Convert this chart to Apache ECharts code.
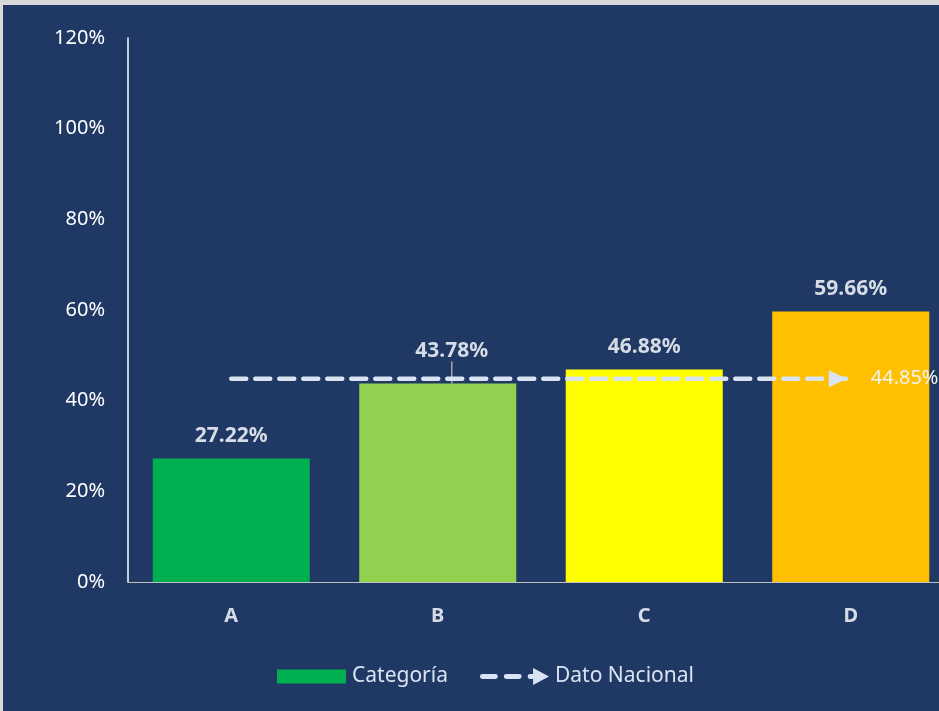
<!DOCTYPE html>
<html>
<head>
<meta charset="utf-8">
<style>
  html, body { margin: 0; padding: 0; background: #d9d9d9; overflow: hidden; }
  #chart { position: absolute; left: 3px; top: 5px; width: 960px; height: 706px; background: #203864; }
</style>
<script src="https://cdn.jsdelivr.net/npm/echarts@6/dist/echarts.min.js"></script>
</head>
<body>
<div id="chart"></div>
<script>
// datos
const categories = ["A", "B", "C", "D"];
const categoryValues = [27.22, 43.78, 46.88, 59.66];
const barColors = ["#00B050", "#92D050", "#FFFF00", "#FFC000"];
const nationalValues = [44.85, 44.85, 44.85, 44.85];
const yTicks = [0, 20, 40, 60, 80, 100, 120];

const font = "Noto Sans";
const lightText = "#d6dce5";

const barData = categoryValues.map((v, i) => {
  const item = { value: v, itemStyle: { color: barColors[i] } };
  if (i === 1) item.labelLine = { show: true }; // etiqueta desplazada en B
  return item;
});

const lineData = nationalValues.map((v, i) => {
  if (i < nationalValues.length - 1) return v;
  return {
    value: v,
    symbol: "triangle",
    symbolSize: [17, 18],
    symbolRotate: -90,
    symbolOffset: [-13, 0],
    label: {
      show: true,
      position: "right",
      distance: 24,
      formatter: "{c}%",
      color: "#f2f2f2",
      fontFamily: font,
      fontSize: 20
    }
  };
});

const option = {
  animation: false,
  backgroundColor: "#203864",
  textStyle: { fontFamily: font },
  grid: { left: 125, top: 33, bottom: 129, right: 9 },
  legend: {
    left: 269,
    top: 656,
    itemWidth: 69,
    itemHeight: 17,
    itemGap: 32,
    selectedMode: false,
    textStyle: { color: "#dae3f3", fontFamily: font, fontSize: 21, padding: [0, 0, 0, 1] },
    data: [
      { name: "Categoría", icon: "path://M0,1.5L68,1.5L68,15.5L0,15.5Z", itemStyle: { color: "#00B050" } },
      {
        name: "Dato Nacional",
        icon: "path://M2,6L15,6A2.5,2.5,0,0,1,15,11L2,11A2.5,2.5,0,0,1,2,6Z M26,6L39,6A2.5,2.5,0,0,1,39,11L26,11A2.5,2.5,0,0,1,26,6Z M50,6L53,6L53,11L50,11A2.5,2.5,0,0,1,50,6Z M53,0L69,8.5L53,17Z",
        itemStyle: { color: "#dae3f3" }
      }
    ]
  },
  xAxis: {
    type: "category",
    data: categories,
    axisLine: { lineStyle: { color: "#bfbfbf", width: 1 } },
    axisTick: { show: false },
    axisLabel: { margin: 24, color: lightText, fontFamily: font, fontSize: 20, fontWeight: "bold" }
  },
  yAxis: {
    type: "value",
    min: yTicks[0],
    max: yTicks[yTicks.length - 1],
    interval: 20,
    splitLine: { show: false },
    axisLine: { show: true, lineStyle: { color: "#ffffff", width: 1.5 } },
    axisTick: { show: false },
    axisLabel: { margin: 23, color: "#ffffff", fontFamily: font, fontSize: 20, formatter: "{value}%" }
  },
  series: [
    {
      name: "Categoría",
      type: "bar",
      barWidth: 157,
      data: barData,
      itemStyle: { color: "#00B050" },
      label: {
        show: true,
        position: "top",
        distance: 12,
        formatter: "{c}%",
        color: lightText,
        fontFamily: font,
        fontSize: 21,
        fontWeight: "bold"
      },
      labelLine: { show: false, lineStyle: { color: "#a6a6a6", width: 1.5 } },
      labelLayout: function (p) {
        return p.dataIndex === 1 ? { dx: 14, dy: -10 } : {};
      }
    },
    {
      name: "Dato Nacional",
      type: "line",
      z: 5,
      data: lineData,
      symbol: "none",
      showSymbol: true,
      itemStyle: { color: "#dae3f3" },
      lineStyle: { color: "#dae3f3", width: 4.5, type: [15, 9], cap: "round" }
    }
  ]
};

const chart = echarts.init(document.getElementById("chart"));
chart.setOption(option);
</script>
</body>
</html>
